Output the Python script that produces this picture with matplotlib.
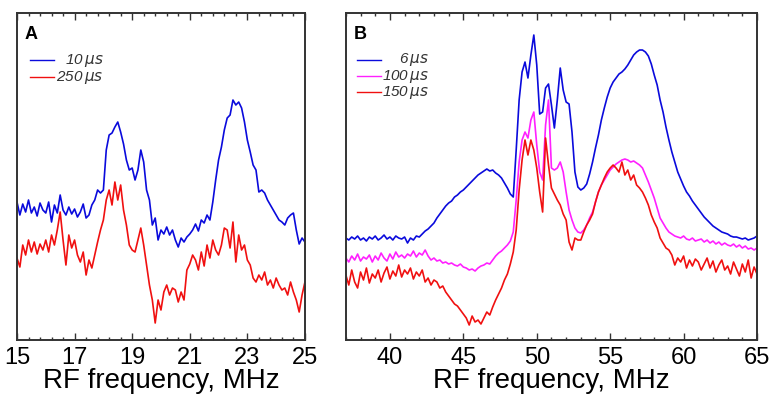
import numpy as np
import matplotlib
matplotlib.use("Agg")
import matplotlib.pyplot as plt
from matplotlib.lines import Line2D

plt.rcParams['font.family'] = ['Liberation Sans', 'DejaVu Sans']
plt.rcParams['mathtext.fontset'] = 'dejavusans'

# ---- panel A: 15-25 MHz, step 0.1 ----
freq_a = np.round(np.arange(15.0, 25.001, 0.1), 1)
blue_10us = [
    138, 125, 136, 128, 140, 127, 133, 124, 137, 130,
    127, 138, 118, 135, 127, 145, 130, 125, 133, 126,
    131, 123, 128, 136, 122, 125, 135, 140, 150, 147,
    150, 190, 205, 207, 213, 218, 208, 196, 180, 170,
    172, 160, 170, 190, 178, 150, 140, 115, 122, 100,
    110, 106, 113, 105, 110, 100, 93, 102, 98, 103,
    106, 110, 116, 109, 120, 117, 125, 120, 138, 160,
    180, 193, 210, 222, 225, 240, 235, 238, 232, 218,
    200, 188, 175, 170, 148, 150, 147, 140, 135, 130,
    125, 120, 118, 115, 122, 125, 127, 110, 96, 102,
    98,
]
red_250us = [
    82, 73, 95, 85, 100, 88, 98, 86, 96, 90,
    100, 88, 105, 95, 110, 128, 100, 75, 105, 92,
    100, 85, 78, 88, 65, 80, 72, 85, 98, 110,
    120, 140, 150, 135, 158, 140, 155, 130, 115, 95,
    90, 88, 100, 112, 95, 75, 55, 40, 17, 40,
    30, 48, 55, 45, 52, 50, 38, 48, 40, 70,
    76, 85, 80, 70, 88, 74, 95, 82, 100, 90,
    85, 95, 112, 110, 92, 118, 78, 105, 90, 95,
    80, 75, 62, 58, 65, 60, 68, 55, 60, 52,
    62, 55, 50, 52, 45, 58, 48, 40, 28, 45,
    58,
]
ticks_a = [15, 17, 19, 21, 23, 25]

# ---- panel B: 37-65 MHz, step 0.2 ----
freq_b = np.round(np.arange(37.0, 65.001, 0.2), 1)
blue_6us = [
    102, 100, 103, 101, 104, 100, 102, 99, 103, 101,
    104, 100, 102, 105, 101, 103, 100, 104, 102, 101,
    103, 97, 102, 100, 104, 103, 106, 109, 111, 114,
    117, 122, 126, 130, 134, 137, 139, 143, 145, 148,
    150, 153, 156, 159, 162, 165, 167, 169, 171, 169,
    170, 167, 165, 162, 157, 152, 146, 143, 190, 240,
    268, 278, 262, 285, 305, 275, 226, 228, 252, 256,
    235, 212, 240, 272, 250, 238, 236, 208, 168, 153,
    150, 152, 156, 166, 178, 192, 205, 220, 232, 243,
    252, 258, 262, 266, 268, 271, 275, 280, 285, 288,
    290, 290, 288, 284, 276, 265, 255, 240, 228, 213,
    200, 188, 178, 168, 161, 154, 148, 144, 139, 135,
    131, 127, 123, 120, 117, 114, 112, 110, 108, 107,
    106, 104, 103, 103, 102, 101, 102, 100, 101, 102,
    104,
]
magenta_100us = [
    82, 78, 84, 80, 86, 79, 83, 81, 85, 78,
    84, 80, 87, 82, 79, 86, 81, 88, 83, 85,
    82, 86, 84, 89, 83, 87, 85, 90, 84, 80,
    82, 79, 80, 77, 78, 76, 77, 75, 74, 76,
    73, 72, 70, 71, 69, 72, 74, 75, 77, 76,
    80, 84, 87, 89, 92, 95, 99, 108, 140, 178,
    200, 208, 202, 220, 228, 195, 168, 160, 215, 240,
    172, 170, 172, 178, 168, 148, 130, 120, 112, 108,
    107, 110, 115, 122, 128, 138, 148, 155, 160, 165,
    170, 173, 176, 178, 180, 181, 180, 178, 179, 177,
    175, 172, 165, 158, 150, 142, 132, 122, 117, 112,
    108, 106, 104, 103, 102, 104, 101, 100, 102, 99,
    100, 101, 98, 100, 97, 99, 96, 98, 95, 97,
    95, 94, 96, 93, 95, 92, 94, 91, 92, 90,
    92,
]
red_150us = [
    65, 55, 70, 58, 52, 68, 60, 72, 57, 66,
    62, 70, 58, 67, 73, 61, 69, 64, 75, 63,
    70, 66, 72, 61, 68, 64, 70, 58, 62, 55,
    60, 58, 52, 54, 48, 44, 40, 36, 34, 30,
    26, 22, 15, 24, 18, 20, 16, 22, 28, 25,
    33, 40, 46, 52, 60, 66, 76, 88, 110, 150,
    180, 200, 185, 200, 190, 172, 148, 128, 202, 175,
    152, 146, 140, 135, 126, 120, 98, 90, 102, 100,
    100, 108, 115, 120, 126, 138, 148, 155, 162, 168,
    172, 175, 172, 168, 178, 165, 170, 160, 165, 155,
    152, 148, 142, 135, 125, 118, 112, 102, 97, 92,
    90, 85, 75, 82, 78, 84, 72, 80, 74, 81,
    78, 70, 76, 82, 72, 79, 68, 75, 80, 70,
    74, 66, 78, 71, 64, 76, 68, 80, 62, 73,
    66,
]
ticks_b = [40, 45, 50, 55, 60, 65]

BLUE = '#0a0adc'
RED = '#f01010'
MAGENTA = '#ff20ff'

fig = plt.figure(figsize=(7.72, 3.98), dpi=100)
ax_a = fig.add_axes([0.022, 0.1457, 0.373, 0.8216])
ax_b = fig.add_axes([0.448, 0.1457, 0.5326, 0.8216])


def style_axis(ax, major, minor):
    ax.set_ylim(0, 327)
    ax.set_yticks([])
    ax.set_xticks(major)
    ax.set_xticks(minor, minor=True)
    ax.tick_params(axis='x', which='both', direction='in', top=True,
                   labelsize=17, pad=5, color='#333333')
    ax.tick_params(axis='x', which='major', length=5, width=1)
    ax.tick_params(axis='x', which='minor', length=2.5, width=1)
    for s in ax.spines.values():
        s.set_linewidth(1.4)
        s.set_color('#333333')
    ax.set_xlabel('RF frequency, MHz', fontsize=20, labelpad=-1)


def manual_legend(ax, entries, x0, x1, xtext, y0, dy):
    # lines + right-aligned italic labels, in axes coordinates
    for i, (color, label) in enumerate(entries):
        y = y0 - i * dy
        ax.add_line(Line2D([x0, x1], [y, y], color=color, lw=1.0,
                           transform=ax.transAxes))
        ax.text(xtext, y, label, transform=ax.transAxes, ha='right',
                va='center', fontsize=11, style='italic', color='#333333')


# panel A
ax_a.plot(freq_a, blue_10us, color=BLUE, lw=1.2)
ax_a.plot(freq_a, red_250us, color=RED, lw=1.2)
ax_a.set_xlim(15, 25)
style_axis(ax_a, ticks_a, np.arange(15, 25.01, 0.4))
ax_a.text(0.025, 0.935, 'A', transform=ax_a.transAxes, fontsize=13,
          fontweight='bold', va='center', ha='left')
manual_legend(ax_a, [(BLUE, r'10$\,\mu s$'), (RED, r'250$\,\mu s$')],
              0.045, 0.13, 0.30, 0.855, 0.052)

# panel B
ax_b.plot(freq_b, blue_6us, color=BLUE, lw=1.2)
ax_b.plot(freq_b, magenta_100us, color=MAGENTA, lw=1.2)
ax_b.plot(freq_b, red_150us, color=RED, lw=1.2)
ax_b.set_xlim(37, 65)
style_axis(ax_b, ticks_b, np.arange(37, 65.01, 1))
ax_b.text(0.018, 0.935, 'B', transform=ax_b.transAxes, fontsize=13,
          fontweight='bold', va='center', ha='left')
manual_legend(ax_b, [(BLUE, r'6$\,\mu s$'), (MAGENTA, r'100$\,\mu s$'),
                     (RED, r'150$\,\mu s$')],
              0.026, 0.085, 0.202, 0.857, 0.05)

fig.savefig('out.png', dpi=100)
